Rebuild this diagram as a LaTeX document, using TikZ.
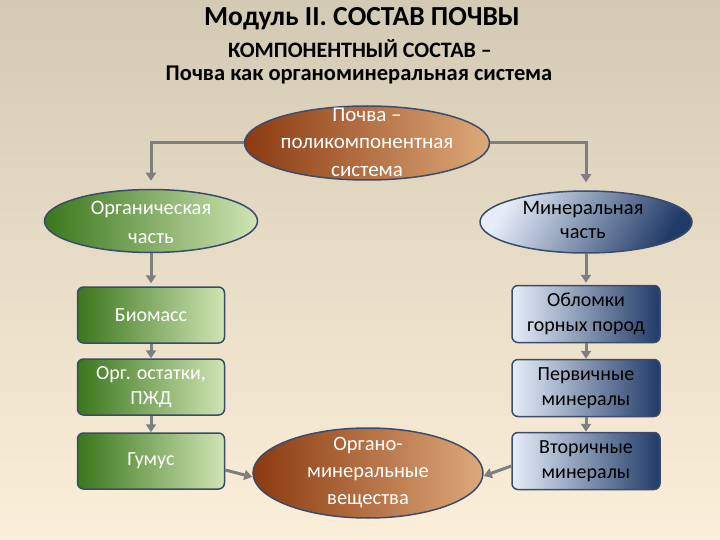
\documentclass[tikz,border=0pt]{standalone}
\usepackage{fontspec}
\setmainfont{Carlito}
\usetikzlibrary{arrows.meta,shapes.geometric}
\definecolor{bgtop}{HTML}{D4CAB3}
\definecolor{bgbot}{HTML}{FCEFD9}
\definecolor{browndark}{HTML}{8B3A10}
\definecolor{brownlight}{HTML}{DDA97A}
\definecolor{greendark}{HTML}{3A771C}
\definecolor{greenlight}{HTML}{D0E4B4}
\definecolor{bluelight}{HTML}{E6EDF9}
\definecolor{bluedark}{HTML}{213B68}
\definecolor{bord}{HTML}{3B4B6B}
\definecolor{conncol}{HTML}{7F7F7F}
\tikzset{
  brownell/.style={ellipse, draw=bord, line width=1.5pt, left color=browndark, right color=brownlight, inner sep=0pt},
  greenell/.style={ellipse, draw=bord, line width=1.5pt, left color=greendark, right color=greenlight, inner sep=0pt},
  blueell/.style={ellipse, draw=bord, line width=1.5pt, left color=bluelight, right color=bluedark, shading angle=60, inner sep=0pt},
  greenbox/.style={rectangle, rounded corners=6pt, draw=bord, line width=1.5pt, left color=greendark, right color=greenlight, minimum width=147pt, minimum height=56pt, text=white, align=center, font=\fontsize{20}{25}\selectfont},
  bluebox/.style={rectangle, rounded corners=6pt, draw=bord, line width=1.5pt, left color=bluelight, right color=bluedark, minimum width=148pt, minimum height=57pt, text=black, align=center, font=\fontsize{20}{25}\selectfont},
  eltext/.style={align=center},
  titletext/.style={text=black},
  conn/.style={draw=conncol, line width=3pt, -{Triangle[length=8pt,width=10pt]}}
}
\begin{document}
\begin{tikzpicture}[x=1pt,y=-1pt]
\shade[top color=bgtop, bottom color=bgbot] (0,0) rectangle (720,540);
\useasboundingbox (0,0) rectangle (720,540);

\node[titletext, font=\bfseries\fontsize{27.5}{27.5}\selectfont] (t1) at (362,19) {Модуль II. СОСТАВ ПОЧВЫ};
\node[titletext, font=\bfseries\fontsize{22}{22}\selectfont] (t2) at (360,49) {КОМПОНЕНТНЫЙ СОСТАВ –};
\node[titletext, font=\bfseries\fontsize{22.5}{22.5}\selectfont] (t3) at (359,75) {Почва как органоминеральная система};

\node[brownell, minimum width=245pt, minimum height=74pt] (top) at (367,143) {};
\node[eltext, text=white, font=\fontsize{21}{27.5}\selectfont] (toptext) at ([yshift=1pt]top.center) {Почва –\\поликомпонентная\\система};

\node[greenell, minimum width=213pt, minimum height=63pt] (org) at (151,221) {};
\node[eltext, text=white, font=\fontsize{20.5}{29}\selectfont] (orgtext) at ([yshift=-1pt]org.center) {Органическая\\часть};

\node[blueell, minimum width=212pt, minimum height=62pt] (min) at (586,222) {};
\node[eltext, text=black, font=\fontsize{20.5}{24}\selectfont] (mintext) at ([xshift=-3pt,yshift=2pt]min.center) {Минеральная\\часть};

\node[greenbox] (bio) at (151,315) {Биомасс};
\node[greenbox] (ost) at (151,387) {Орг. остатки,\\ПЖД};
\node[greenbox] (gum) at (151,461) {Гумус};

\node[bluebox] (obl) at (586,314) {Обломки\\горных пород};
\node[bluebox] (per) at (586,388) {Первичные\\минералы};
\node[bluebox] (vto) at (586,461) {Вторичные\\минералы};

\node[brownell, minimum width=230pt, minimum height=90pt] (om) at (368,473) {};
\node[eltext, text=white, font=\fontsize{20.5}{27}\selectfont] (omtext) at ([yshift=0pt]om.center) {Органо-\\минеральные\\вещества};

\draw[conn, shorten >=8pt] (top.west) -| (org.north);
\draw[conn, shorten >=8pt] (top.east) -| (min.north);
\draw[conn, shorten >=3pt] (org.south) -- (bio.north);
\draw[conn, shorten >=2pt] (min.south) -- (obl.north);
\draw[conn] (bio.south) -- (ost.north);
\draw[conn] (ost.south) -- (gum.north);
\draw[conn] (obl.south) -- (per.north);
\draw[conn] (per.south) -- (vto.north);
\draw[conn] ([yshift=-9pt]gum.east) -- ([yshift=-4pt]om.west);
\draw[conn] ([yshift=-5pt]vto.west) -- ([yshift=-3pt]om.east);
\end{tikzpicture}
\end{document}
